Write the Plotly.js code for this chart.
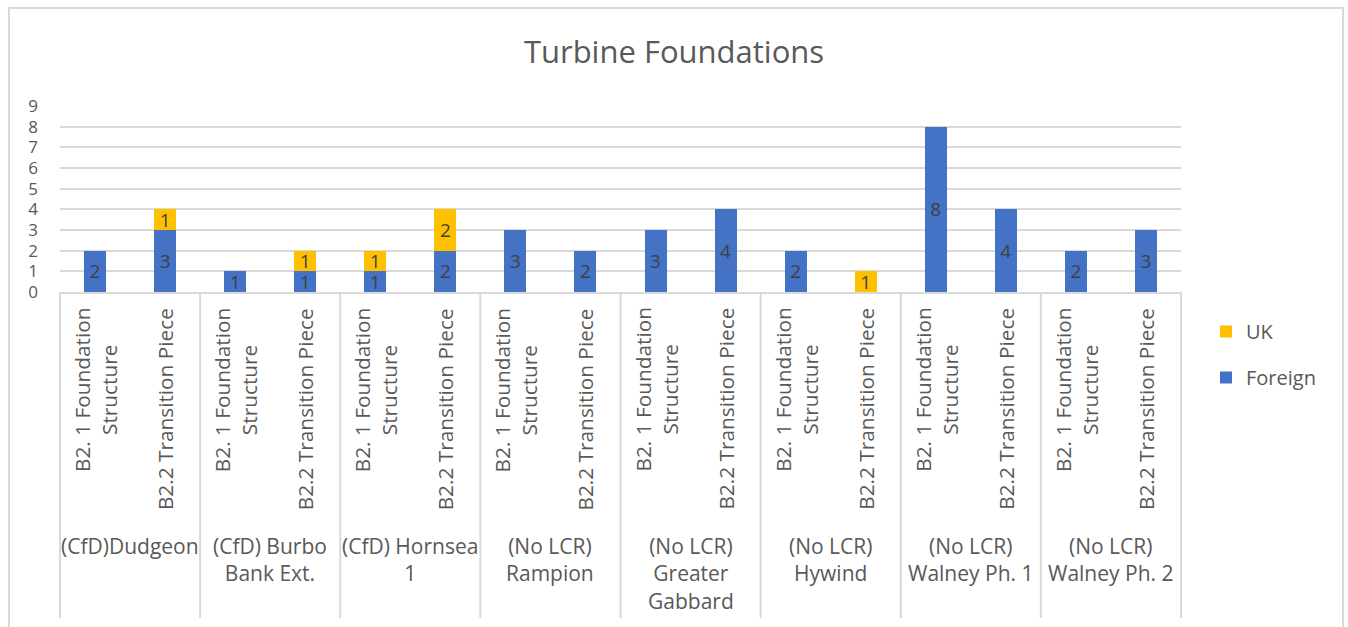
<!DOCTYPE html>
<html><head><meta charset="utf-8">
<script src="https://cdn.plot.ly/plotly-3.0.1.min.js"></script>
<style>
body{margin:0;background:#fff;}
#frame{position:absolute;left:8px;top:7px;width:1336px;height:660px;border:2px solid #d9d9d9;pointer-events:none;box-sizing:border-box;}
</style>
</head><body>
<div id="chart" style="position:absolute;left:0;top:0;width:1348px;height:627px;"></div>
<div id="frame"></div>
<script>
const projects = ['(CfD)Dudgeon','(CfD) Burbo<br>Bank Ext.','(CfD) Hornsea<br>1','(No LCR)<br>Rampion','(No LCR)<br>Greater<br>Gabbard','(No LCR)<br>Hywind','(No LCR)<br>Walney Ph. 1','(No LCR)<br>Walney Ph. 2'];
const items = ['B2. 1 Foundation<br>Structure','B2.2 Transition Piece'];
const foreign = [2,3, 1,1, 1,2, 3,2, 3,4, 2,0, 8,4, 2,3];
const uk      = [0,1, 0,1, 1,2, 0,0, 0,0, 0,1, 0,0, 0,0];
const yTicks = [0,1,2,3,4,5,6,7,8,9];

const FONT = 'Open Sans, Noto Sans, sans-serif';
const GRAY = '#595959';

const cats = [], catItems = [];
projects.forEach(p => items.forEach(it => { cats.push(p + ' / ' + it); catItems.push(it); }));

const lbl = arr => arr.map(v => v ? String(v) : '');

const common = {
  type: 'bar', x: cats, textposition: 'inside', insidetextanchor: 'middle',
  textangle: 0, constraintext: 'none', hoverinfo: 'skip',
  textfont: {family: FONT, size: 19, color: '#404040'}
};
const traces = [
  Object.assign({}, common, {name: 'Foreign', y: foreign, text: lbl(foreign), marker: {color: '#4472C4'}, legendgroup: 'f', legendrank: 2}),
  Object.assign({}, common, {name: 'UK', y: uk, text: lbl(uk), marker: {color: '#FFC000'}, legendgroup: 'u', legendrank: 1})
];

const plotTop = 106, plotBottom = 292, plotH = plotBottom - plotTop;
const py = px => (plotBottom - px) / plotH;

const shapes = [];
for (let k = 0; k <= projects.length; k++) {
  shapes.push({type: 'line', xref: 'paper', yref: 'paper', x0: k / projects.length, x1: k / projects.length,
    y0: 0, y1: py(618), line: {color: '#d9d9d9', width: 2}});
}

const annotations = [];
cats.forEach((c, i) => {
  annotations.push({xref: 'x', yref: 'paper', x: i, y: py(306), xanchor: 'center', yanchor: 'top',
    text: catItems[i], textangle: -90, showarrow: false, align: 'center',
    font: {family: FONT, size: 20.8, color: GRAY}});
});
projects.forEach((p, k) => {
  annotations.push({xref: 'paper', yref: 'paper', x: (k + 0.5) / projects.length, y: py(530), xanchor: 'center', yanchor: 'top',
    text: p, showarrow: false, align: 'center', font: {family: FONT, size: 21, color: GRAY}});
});

const layout = {
  width: 1348, height: 627,
  margin: {l: 60, r: 167, t: plotTop, b: 627 - plotBottom},
  paper_bgcolor: 'rgba(0,0,0,0)', plot_bgcolor: 'rgba(0,0,0,0)',
  title: {text: 'Turbine Foundations', font: {family: FONT, size: 31, color: GRAY},
    x: 0.5, xref: 'container', xanchor: 'center', y: 1 - 52 / 627, yref: 'container', yanchor: 'middle'},
  barmode: 'stack', bargap: 0.686,
  xaxis: {type: 'category', range: [-0.5, cats.length - 0.5], showticklabels: false, ticks: '',
    showline: true, linecolor: '#d9d9d9', linewidth: 2, showgrid: false, zeroline: false, fixedrange: true},
  yaxis: {range: [0, 9], tickmode: 'array', tickvals: yTicks, ticktext: yTicks.map(String),
    showgrid: true, gridcolor: '#d9d9d9', gridwidth: 2, zeroline: false, showline: false,
    ticklabelstandoff: 21, tickfont: {family: FONT, size: 17, color: GRAY}, fixedrange: true},
  showlegend: true,
  legend: {x: (1206 - 60) / 1121, xanchor: 'left', y: py(312), yanchor: 'top', xref: 'paper', yref: 'paper',
    traceorder: 'grouped', tracegroupgap: 17, bgcolor: 'rgba(0,0,0,0)',
    font: {family: FONT, size: 20, color: GRAY}},
  shapes: shapes, annotations: annotations
};

Plotly.newPlot('chart', traces, layout, {displayModeBar: false, staticPlot: true});
</script>
</body></html>
